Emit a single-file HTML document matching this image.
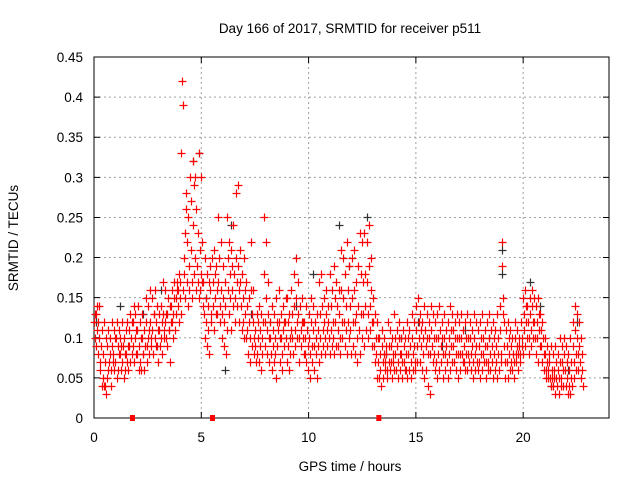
<!DOCTYPE html>
<html><head><meta charset="utf-8"><style>
body{margin:0;background:#fff}
svg{display:block;font-family:"Liberation Sans",sans-serif}
</style></head><body>
<svg id="chart" width="640" height="480" viewBox="0 0 640 480">
<text x="350" y="33" font-size="13.5" text-anchor="middle">Day 166 of 2017, SRMTID for receiver p511</text>
<text x="0" y="0" font-size="13.5" text-anchor="middle" transform="translate(18,238) rotate(-90)">SRMTID / TECUs</text>
<text x="350" y="471" font-size="13.5" text-anchor="middle">GPS time / hours</text>
<g id="grid"></g>
<g id="axes"></g>
<g id="gray"></g>
<g id="red"></g>
</svg>
<script>
const xTicks=[0,5,10,15,20];
const yTicks=[0,0.05,0.1,0.15,0.2,0.25,0.3,0.35,0.4,0.45];
const yTickLabels=["0","0.05","0.1","0.15","0.2","0.25","0.3","0.35","0.4","0.45"];
const slotHours=[0,0.1,0.2,0.3,0.4,0.5,0.6,0.7,0.8,0.9,1,1.1,1.2,1.3,1.4,1.5,1.6,1.7,1.8,1.9,2,2.1,2.2,2.3,2.4,2.5,2.6,2.7,2.8,2.9,3,3.1,3.2,3.3,3.4,3.5,3.6,3.7,3.8,3.9,4,4.1,4.2,4.3,4.4,4.5,4.6,4.7,4.8,4.9,5,5.1,5.2,5.3,5.4,5.5,5.6,5.7,5.8,5.9,6,6.1,6.2,6.3,6.4,6.5,6.6,6.7,6.8,6.9,7,7.1,7.2,7.3,7.4,7.5,7.6,7.7,7.8,7.9,8,8.1,8.2,8.3,8.4,8.5,8.6,8.7,8.8,8.9,9,9.1,9.2,9.3,9.4,9.5,9.6,9.7,9.8,9.9,10,10.1,10.2,10.3,10.4,10.5,10.6,10.7,10.8,10.9,11,11.1,11.2,11.3,11.4,11.5,11.6,11.7,11.8,11.9,12,12.1,12.2,12.3,12.4,12.5,12.6,12.7,12.8,12.9,13,13.1,13.2,13.3,13.4,13.5,13.6,13.7,13.8,13.9,14,14.1,14.2,14.3,14.4,14.5,14.6,14.7,14.8,14.9,15,15.1,15.2,15.3,15.4,15.5,15.6,15.7,15.8,15.9,16,16.1,16.2,16.3,16.4,16.5,16.6,16.7,16.8,16.9,17,17.1,17.2,17.3,17.4,17.5,17.6,17.7,17.8,17.9,18,18.1,18.2,18.3,18.4,18.5,18.6,18.7,18.8,18.9,19,19.1,19.2,19.3,19.4,19.5,19.6,19.7,19.8,19.9,20,20.1,20.2,20.3,20.4,20.5,20.6,20.7,20.8,20.9,21,21.1,21.2,21.3,21.4,21.5,21.6,21.7,21.8,21.9,22,22.1,22.2,22.3,22.4,22.5,22.6,22.7];
const redValues=[
[.12,.10,.13,.09],[.13,.11,.14,.08],[.12,.10,.14,.07],[.06,.09,.11,.04],[.05,.08,.12,.04],[.04,.07,.10,.03],[.05,.09,.11,.06],[.07,.10,.08,.04],[.06,.09,.12,.07],[.08,.11,.06,.10],
[.07,.10,.12,.05],[.09,.06,.11,.08],[.08,.10,.06,.09],[.07,.12,.09,.05],[.10,.06,.08,.11],[.08,.07,.12,.09],[.06,.09,.11,.07],[.13,.10,.08,.12],[.12,.09,.14,.07],[.10,.13,.08,.11],
[.11,.08,.14,.06],[.09,.12,.07,.10],[.06,.10,.13,.08],[.08,.11,.06,.09],[.12,.15,.09,.07],[.10,.14,.11,.08],[.12,.16,.09,.10],[.11,.15,.08,.13],[.13,.10,.16,.09],[.12,.09,.14,.11],
[.07,.11,.13,.09],[.10,.14,.12,.08],[.13,.17,.11,.10],[.12,.16,.10,.13],[.09,.13,.15,.11],[.11,.14,.07,.12],[.14,.12,.16,.10],[.13,.15,.17,.11],[.15,.13,.17,.16],[.14,.16,.18,.12],
[.15,.17,.33,.13],[.42,.39,.16,.20],[.18,.23,.15,.26],[.28,.22,.17,.14],[.25,.19,.16,.30],[.27,.21,.17,.15],[.32,.24,.18,.29],[.30,.20,.16,.26],[.19,.17,.23,.15],[.33,.21,.16,.18],
[.30,.17,.22,.14],[.17,.13,.20,.10],[.15,.12,.18,.09],[.14,.11,.17,.08],[.16,.19,.13,.12],[.20,.17,.14,.11],[.21,.18,.15,.13],[.19,.16,.13,.25],[.17,.20,.14,.12],[.22,.16,.13,.10],
[.19,.15,.12,.09],[.17,.14,.08,.11],[.25,.20,.16,.13],[.22,.18,.15,.11],[.21,.19,.16,.14],[.24,.18,.15,.12],[.28,.20,.17,.14],[.29,.19,.16,.12],[.21,.17,.14,.11],[.18,.15,.12,.10],
[.20,.16,.13,.10],[.17,.14,.11,.08],[.15,.12,.10,.07],[.22,.16,.13,.09],[.16,.12,.10,.08],[.11,.09,.07,.13],[.08,.10,.12,.07],[.14,.11,.09,.06],[.13,.10,.08,.12],[.25,.18,.12,.09],
[.22,.15,.11,.08],[.17,.13,.10,.07],[.12,.10,.08,.06],[.14,.11,.09,.07],[.13,.10,.08,.05],[.15,.12,.09,.11],[.16,.12,.10,.07],[.13,.10,.08,.06],[.14,.11,.09,.12],[.12,.10,.15,.07],
[.15,.12,.09,.06],[.13,.10,.08,.11],[.16,.13,.10,.08],[.18,.14,.11,.09],[.20,.15,.12,.10],[.17,.13,.10,.07],[.14,.11,.09,.12],[.15,.12,.10,.08],[.12,.10,.08,.07],[.14,.11,.09,.06],
[.13,.10,.08,.05],[.15,.12,.09,.07],[.14,.11,.09,.06],[.12,.10,.08,.05],[.13,.11,.09,.07],[.17,.13,.10,.08],[.18,.14,.11,.09],[.15,.12,.10,.08],[.16,.13,.11,.09],[.14,.12,.10,.08],
[.18,.14,.11,.09],[.16,.12,.10,.08],[.19,.15,.12,.09],[.17,.14,.11,.09],[.16,.13,.10,.08],[.21,.16,.12,.10],[.20,.15,.12,.09],[.18,.14,.11,.08],[.22,.16,.12,.10],[.19,.14,.11,.08],
[.20,.15,.12,.09],[.21,.16,.12,.08],[.17,.13,.10,.07],[.19,.14,.11,.08],[.23,.18,.13,.10],[.22,.17,.13,.09],[.23,.18,.14,.11],[.22,.17,.13,.10],[.24,.19,.14,.11],[.20,.16,.12,.09],
[.15,.12,.09,.07],[.13,.10,.08,.05],[.12,.10,.07,.05],[.10,.08,.06,.04],[.11,.09,.07,.05],[.10,.08,.07,.06],[.09,.08,.06,.05],[.12,.09,.07,.06],[.11,.09,.07,.05],[.10,.08,.07,.06],
[.13,.10,.08,.06],[.11,.09,.07,.05],[.12,.10,.08,.06],[.10,.08,.07,.05],[.11,.09,.07,.06],[.10,.08,.06,.05],[.12,.10,.08,.06],[.11,.09,.07,.05],[.13,.10,.08,.06],[.12,.09,.07,.06],
[.14,.11,.09,.07],[.15,.12,.10,.07],[.13,.11,.09,.06],[.12,.10,.08,.05],[.14,.11,.09,.06],[.13,.10,.08,.04],[.12,.10,.08,.03],[.14,.11,.09,.07],[.13,.10,.08,.06],[.12,.10,.07,.05],
[.13,.10,.08,.06],[.14,.11,.09,.07],[.12,.10,.08,.05],[.13,.10,.08,.06],[.11,.09,.07,.05],[.12,.10,.08,.06],[.14,.11,.09,.07],[.13,.11,.09,.07],[.12,.10,.08,.06],[.13,.10,.08,.05],
[.12,.10,.08,.06],[.13,.10,.08,.07],[.11,.09,.07,.06],[.12,.10,.08,.06],[.13,.10,.08,.07],[.12,.10,.08,.06],[.11,.09,.07,.05],[.13,.10,.08,.06],[.12,.09,.07,.06],[.11,.09,.07,.05],
[.12,.10,.08,.06],[.13,.10,.08,.07],[.11,.09,.07,.05],[.12,.09,.07,.06],[.13,.10,.08,.06],[.11,.09,.07,.05],[.12,.10,.08,.06],[.11,.09,.07,.05],[.13,.10,.08,.06],[.14,.11,.08,.07],
[.22,.19,.15,.13],[.12,.09,.07,.05],[.11,.09,.07,.05],[.12,.10,.08,.06],[.11,.09,.07,.06],[.10,.08,.07,.05],[.12,.10,.08,.07],[.11,.09,.08,.06],[.10,.09,.08,.07],[.12,.10,.09,.08],
[.15,.13,.11,.09],[.16,.14,.12,.10],[.14,.12,.10,.08],[.15,.13,.11,.09],[.16,.14,.12,.10],[.15,.12,.10,.08],[.14,.12,.10,.07],[.15,.13,.11,.09],[.13,.11,.09,.07],[.12,.10,.08,.06],
[.10,.08,.06,.05],[.09,.07,.06,.05],[.08,.07,.05,.04],[.09,.06,.05,.04],[.08,.06,.05,.03],[.09,.07,.05,.04],[.08,.06,.05,.03],[.10,.07,.05,.04],[.09,.07,.06,.04],[.10,.08,.06,.04],
[.09,.07,.05,.03],[.08,.06,.04,.03],[.10,.07,.05,.04],[.12,.09,.07,.05],[.14,.11,.08,.06],[.13,.10,.08,.06],[.12,.09,.07,.05],[.10,.08,.06,.04]];
const zeroHours=[1.77,5.5,13.25];
const grayHours=[0.1,1.2,2.3,3.1,4.6,4.9,5.2,6.1,6.4,7.3,8.2,9.4,10.2,11.4,11.9,12.7,13.6,14.3,15.1,16.2,17.3,18.4,19.0,19.0,20.3,20.8,21.3,22.1,22.5];
const grayValues=[0.12,0.14,0.13,0.16,0.32,0.33,0.15,0.06,0.24,0.13,0.12,0.14,0.18,0.24,0.19,0.25,0.08,0.10,0.12,0.09,0.11,0.10,0.18,0.21,0.17,0.14,0.04,0.06,0.12];

const L=94,R=609,T=57,B=418,XMAX=24,YMAX=0.45;
const sx=h=>L+h/XMAX*(R-L);
const sy=v=>B-v/YMAX*(B-T);
const NS="http://www.w3.org/2000/svg";
function mk(tag,parent){const e=document.createElementNS(NS,tag);parent.appendChild(e);return e;}
const grid=document.getElementById('grid'),axes=document.getElementById('axes');
yTicks.forEach((v,i)=>{
  const y=sy(v);
  if(i>0&&i<yTicks.length-1){const g=mk('line',grid);
    
    
    g.setAttribute('x1',L);g.setAttribute('x2',R);g.setAttribute('y1',y);g.setAttribute('y2',y);
    g.setAttribute('stroke','#a0a0a0');g.setAttribute('stroke-dasharray','2,3');}
  const t=mk('path',axes);
  
  
  t.setAttribute('d',`M${L},${y}h6M${R},${y}h-6`);t.setAttribute('stroke','#000');
  const lb=mk('text',axes);
  
  
  lb.setAttribute('x',83);lb.setAttribute('y',y+5);lb.setAttribute('text-anchor','end');lb.setAttribute('font-size','13.5');
  lb.textContent=yTickLabels[i];
});
xTicks.forEach(h=>{
  const x=sx(h);
  if(h>0){const g=mk('line',grid);
    
    
    g.setAttribute('x1',x);g.setAttribute('x2',x);g.setAttribute('y1',T);g.setAttribute('y2',B);
    g.setAttribute('stroke','#a0a0a0');g.setAttribute('stroke-dasharray','2,3');}
  const t=mk('path',axes);
  
  
  t.setAttribute('d',`M${x},${B}v-6M${x},${T}v6`);t.setAttribute('stroke','#000');
  const lb=mk('text',axes);
  
  
  lb.setAttribute('x',x);lb.setAttribute('y',B+24);lb.setAttribute('text-anchor','middle');lb.setAttribute('font-size','13.5');
  lb.textContent=String(h);
});
const fr=mk('rect',axes);


fr.setAttribute('x',L);fr.setAttribute('y',T);fr.setAttribute('width',R-L);fr.setAttribute('height',B-T);
fr.setAttribute('fill','none');fr.setAttribute('stroke','#000');
function plus(parent,h,v,color,name){
  const p=mk('path',parent);
  
  
  const x=Math.round(sx(h))+0.5,y=Math.round(sy(v))+0.5;
  p.setAttribute('d',`M${x-4},${y}h8M${x},${y-4}v8`);
  p.setAttribute('stroke',color);p.setAttribute('stroke-width','1.2');
}
const gray=document.getElementById('gray'),red=document.getElementById('red');
grayHours.forEach((h,i)=>plus(gray,h,grayValues[i],'#333','gray-point'));
slotHours.forEach((h,i)=>redValues[i].forEach((v,j)=>plus(red,h+j*0.025,v,'#ff0000','red-point')));
zeroHours.forEach(h=>{
  const r=mk('rect',red);
  
  
  r.setAttribute('x',sx(h)-2);r.setAttribute('y',B-3);r.setAttribute('width',5);r.setAttribute('height',6);r.setAttribute('fill','#ff0000');
});
</script>
</body></html>
